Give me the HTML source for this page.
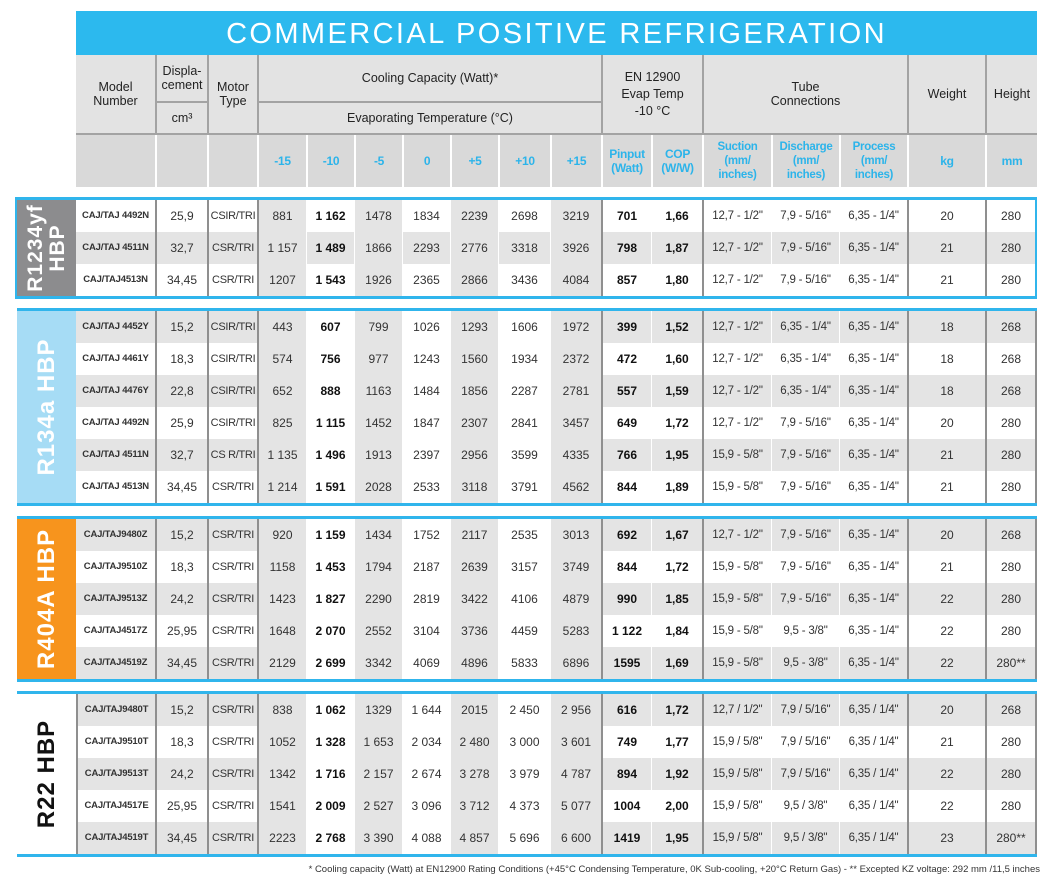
<!DOCTYPE html>
<html><head><meta charset="utf-8">
<style>
body{margin:0;width:1060px;height:882px;background:#fff;position:relative;overflow:hidden;font-family:"Liberation Sans Narrow","Liberation Sans",sans-serif;color:#333}
.title{position:absolute;left:76px;top:11px;width:961px;height:44px;background:#2cb9ee;color:#fff;font-family:"Liberation Sans",sans-serif;font-size:29px;line-height:47px;text-align:center;letter-spacing:2.4px}
.hdr{position:absolute;left:76px;top:55px;width:961px}
.hr{display:flex}
.h1 > div{box-sizing:border-box;background:#e3e3e3;border-left:2px solid #a3a3a3;font-size:12.5px;color:#222;display:flex;align-items:center;justify-content:center;text-align:center;line-height:14px}
.h1 > div:first-child{border-left:none}
.split{flex-direction:column;padding:0!important}
.split > div{width:100%;display:flex;align-items:center;justify-content:center}
.h2{border-top:2px solid #a3a3a3}
.h2 > div{box-sizing:border-box;background:#d9d9d9;border-left:2px solid #fff;height:52px;color:#2cb4ea;font-weight:bold;font-size:12px;display:flex;align-items:center;justify-content:center;text-align:center;line-height:14px;letter-spacing:-0.3px}
.h2 > div:first-child{border-left:none}
.grp{position:absolute;left:17px;width:1020px;border-top:3px solid #30b5ec;border-bottom:3px solid #30b5ec;display:flex}
.lab{width:59px;position:relative;overflow:hidden}
.lab span{position:absolute;left:50%;top:50%;transform:translate(-50%,-50%) rotate(-90deg);white-space:nowrap;font-family:"Liberation Sans",sans-serif;font-weight:bold;font-size:24px;letter-spacing:1px;line-height:24px;text-align:center}
.rows{width:961px;border-right:2px solid #8f8f8f;box-sizing:border-box}
.r{display:flex;height:32px}
.r > div{box-sizing:border-box;text-align:center;line-height:32px;font-size:12px;white-space:nowrap;overflow:hidden;border-left:1px solid #fff}
.g{background:#e4e4e4}
.r > .G{background:#e4e4e4}
.r > .W{background:#fff}
.k{border-left:2px solid #8f8f8f!important}
.b{font-weight:bold;color:#111}
.m{font-size:9.5px!important;font-weight:bold;color:#333;letter-spacing:-0.2px}
.w3{font-size:11px!important;letter-spacing:-0.3px}
.w1{width:79px}.w2{width:52px}.w3{width:50px}.t1{width:49px}.t{width:48px}.t6{width:52px}.t7{width:51px}
.p1{width:50px}.p2{width:51px}.s1{width:69px}.s2{width:68px}.s3{width:68px}.wt{width:78px}.ht{width:50px}
.s1,.s2,.s3{font-size:11.5px!important;letter-spacing:-0.2px}
.foot{position:absolute;right:20px;top:864px;font-size:9.5px;color:#333}
</style></head><body>
<div class="title">COMMERCIAL POSITIVE REFRIGERATION</div>
<div class="hdr">
 <div class="hr h1" style="height:78px">
  <div style="width:79px">Model<br>Number</div>
  <div class="split" style="width:52px"><div style="height:46px;border-bottom:2px solid #a3a3a3">Displa-<br>cement</div><div style="height:30px">cm³</div></div>
  <div style="width:50px">Motor<br>Type</div>
  <div class="split" style="width:344px"><div style="height:46px;border-bottom:2px solid #a3a3a3">Cooling Capacity (Watt)*</div><div style="height:30px">Evaporating Temperature (°C)</div></div>
  <div style="width:101px;line-height:17px">EN 12900<br>Evap Temp<br>-10 °C</div>
  <div style="width:205px">Tube<br>Connections</div>
  <div style="width:78px">Weight</div>
  <div style="width:52px">Height</div>
 </div>
 <div class="hr h2">
  <div class="w1"></div><div class="w2"></div><div class="w3"></div>
  <div class="t1">-15</div><div class="t">-10</div><div class="t">-5</div><div class="t">0</div><div class="t">+5</div><div class="t6">+10</div><div class="t7">+15</div>
  <div class="p1">Pinput<br>(Watt)</div><div class="p2">COP<br>(W/W)</div>
  <div class="s1">Suction<br>(mm/<br>inches)</div><div class="s2">Discharge<br>(mm/<br>inches)</div><div class="s3">Process<br>(mm/<br>inches)</div>
  <div class="wt">kg</div><div style="width:52px">mm</div>
 </div>
</div>

<!-- Group 1 -->
<div class="grp" style="top:197px;border-left:2px solid #30b5ec;border-right:2px solid #30b5ec;width:1018px;left:15px">
 <div class="lab" style="background:#8c8c8e;color:#fff;width:61px"><span style="font-size:21px;line-height:22px">R1234yf<br>HBP</span></div>
 <div class="rows" style="border-right:none">
  <div class="r"><div class="w1 m" style="border-left:none">CAJ/TAJ 4492N</div><div class="w2 k">25,9</div><div class="w3 k">CSIR/TRI</div><div class="t1 k G">881</div><div class="t b">1 162</div><div class="t G">1478</div><div class="t">1834</div><div class="t G">2239</div><div class="t6">2698</div><div class="t7 G">3219</div><div class="p1 k b">701</div><div class="p2 b">1,66</div><div class="s1 k">12,7 - 1/2"</div><div class="s2">7,9 - 5/16"</div><div class="s3">6,35 - 1/4"</div><div class="wt k">20</div><div class="ht k">280</div></div>
  <div class="r g"><div class="w1 m" style="border-left:none">CAJ/TAJ 4511N</div><div class="w2 k">32,7</div><div class="w3 k">CSR/TRI</div><div class="t1 k">1 157</div><div class="t b">1 489</div><div class="t">1866</div><div class="t">2293</div><div class="t">2776</div><div class="t6">3318</div><div class="t7">3926</div><div class="p1 k b">798</div><div class="p2 b">1,87</div><div class="s1 k">12,7 - 1/2"</div><div class="s2">7,9 - 5/16"</div><div class="s3">6,35 - 1/4"</div><div class="wt k">21</div><div class="ht k">280</div></div>
  <div class="r"><div class="w1 m" style="border-left:none">CAJ/TAJ4513N</div><div class="w2 k">34,45</div><div class="w3 k">CSR/TRI</div><div class="t1 k G">1207</div><div class="t b">1 543</div><div class="t G">1926</div><div class="t">2365</div><div class="t G">2866</div><div class="t6">3436</div><div class="t7 G">4084</div><div class="p1 k b">857</div><div class="p2 b">1,80</div><div class="s1 k">12,7 - 1/2"</div><div class="s2">7,9 - 5/16"</div><div class="s3">6,35 - 1/4"</div><div class="wt k">21</div><div class="ht k">280</div></div>
 </div>
</div>

<!-- Group 2 -->
<div class="grp" style="top:308px">
 <div class="lab" style="background:#a6dcf5;color:#fff"><span>R134a HBP</span></div>
 <div class="rows">
  <div class="r g"><div class="w1 m" style="border-left:none">CAJ/TAJ 4452Y</div><div class="w2 k">15,2</div><div class="w3 k">CSIR/TRI</div><div class="t1 k G">443</div><div class="t b W">607</div><div class="t G">799</div><div class="t W">1026</div><div class="t G">1293</div><div class="t6 W">1606</div><div class="t7 G">1972</div><div class="p1 k b">399</div><div class="p2 b">1,52</div><div class="s1 k">12,7 - 1/2"</div><div class="s2">6,35 - 1/4"</div><div class="s3">6,35 - 1/4"</div><div class="wt k">18</div><div class="ht k">268</div></div>
  <div class="r"><div class="w1 m" style="border-left:none">CAJ/TAJ 4461Y</div><div class="w2 k">18,3</div><div class="w3 k">CSIR/TRI</div><div class="t1 k G">574</div><div class="t b">756</div><div class="t G">977</div><div class="t">1243</div><div class="t G">1560</div><div class="t6">1934</div><div class="t7 G">2372</div><div class="p1 k b">472</div><div class="p2 b">1,60</div><div class="s1 k">12,7 - 1/2"</div><div class="s2">6,35 - 1/4"</div><div class="s3">6,35 - 1/4"</div><div class="wt k">18</div><div class="ht k">268</div></div>
  <div class="r g"><div class="w1 m" style="border-left:none">CAJ/TAJ 4476Y</div><div class="w2 k">22,8</div><div class="w3 k">CSIR/TRI</div><div class="t1 k G">652</div><div class="t b W">888</div><div class="t G">1163</div><div class="t W">1484</div><div class="t G">1856</div><div class="t6 W">2287</div><div class="t7 G">2781</div><div class="p1 k b">557</div><div class="p2 b">1,59</div><div class="s1 k">12,7 - 1/2"</div><div class="s2">6,35 - 1/4"</div><div class="s3">6,35 - 1/4"</div><div class="wt k">18</div><div class="ht k">268</div></div>
  <div class="r"><div class="w1 m" style="border-left:none">CAJ/TAJ 4492N</div><div class="w2 k">25,9</div><div class="w3 k">CSIR/TRI</div><div class="t1 k G">825</div><div class="t b">1 115</div><div class="t G">1452</div><div class="t">1847</div><div class="t G">2307</div><div class="t6">2841</div><div class="t7 G">3457</div><div class="p1 k b">649</div><div class="p2 b">1,72</div><div class="s1 k">12,7 - 1/2"</div><div class="s2">7,9 - 5/16"</div><div class="s3">6,35 - 1/4"</div><div class="wt k">20</div><div class="ht k">280</div></div>
  <div class="r g"><div class="w1 m" style="border-left:none">CAJ/TAJ 4511N</div><div class="w2 k">32,7</div><div class="w3 k">CS R/TRI</div><div class="t1 k G">1 135</div><div class="t b W">1 496</div><div class="t G">1913</div><div class="t W">2397</div><div class="t G">2956</div><div class="t6 W">3599</div><div class="t7 G">4335</div><div class="p1 k b">766</div><div class="p2 b">1,95</div><div class="s1 k">15,9 - 5/8"</div><div class="s2">7,9 - 5/16"</div><div class="s3">6,35 - 1/4"</div><div class="wt k">21</div><div class="ht k">280</div></div>
  <div class="r"><div class="w1 m" style="border-left:none">CAJ/TAJ 4513N</div><div class="w2 k">34,45</div><div class="w3 k">CSR/TRI</div><div class="t1 k G">1 214</div><div class="t b">1 591</div><div class="t G">2028</div><div class="t">2533</div><div class="t G">3118</div><div class="t6">3791</div><div class="t7 G">4562</div><div class="p1 k b">844</div><div class="p2 b">1,89</div><div class="s1 k">15,9 - 5/8"</div><div class="s2">7,9 - 5/16"</div><div class="s3">6,35 - 1/4"</div><div class="wt k">21</div><div class="ht k">280</div></div>
 </div>
</div>

<!-- Group 3 -->
<div class="grp" style="top:516px">
 <div class="lab" style="background:#f7941d;color:#fff"><span>R404A HBP</span></div>
 <div class="rows">
  <div class="r g"><div class="w1 m" style="border-left:none">CAJ/TAJ9480Z</div><div class="w2 k">15,2</div><div class="w3 k">CSR/TRI</div><div class="t1 k G">920</div><div class="t b W">1 159</div><div class="t G">1434</div><div class="t W">1752</div><div class="t G">2117</div><div class="t6 W">2535</div><div class="t7 G">3013</div><div class="p1 k b">692</div><div class="p2 b">1,67</div><div class="s1 k">12,7 - 1/2"</div><div class="s2">7,9 - 5/16"</div><div class="s3">6,35 - 1/4"</div><div class="wt k">20</div><div class="ht k">268</div></div>
  <div class="r"><div class="w1 m" style="border-left:none">CAJ/TAJ9510Z</div><div class="w2 k">18,3</div><div class="w3 k">CSR/TRI</div><div class="t1 k G">1158</div><div class="t b">1 453</div><div class="t G">1794</div><div class="t">2187</div><div class="t G">2639</div><div class="t6">3157</div><div class="t7 G">3749</div><div class="p1 k b">844</div><div class="p2 b">1,72</div><div class="s1 k">15,9 - 5/8"</div><div class="s2">7,9 - 5/16"</div><div class="s3">6,35 - 1/4"</div><div class="wt k">21</div><div class="ht k">280</div></div>
  <div class="r g"><div class="w1 m" style="border-left:none">CAJ/TAJ9513Z</div><div class="w2 k">24,2</div><div class="w3 k">CSR/TRI</div><div class="t1 k G">1423</div><div class="t b W">1 827</div><div class="t G">2290</div><div class="t W">2819</div><div class="t G">3422</div><div class="t6 W">4106</div><div class="t7 G">4879</div><div class="p1 k b">990</div><div class="p2 b">1,85</div><div class="s1 k">15,9 - 5/8"</div><div class="s2">7,9 - 5/16"</div><div class="s3">6,35 - 1/4"</div><div class="wt k">22</div><div class="ht k">280</div></div>
  <div class="r"><div class="w1 m" style="border-left:none">CAJ/TAJ4517Z</div><div class="w2 k">25,95</div><div class="w3 k">CSR/TRI</div><div class="t1 k G">1648</div><div class="t b">2 070</div><div class="t G">2552</div><div class="t">3104</div><div class="t G">3736</div><div class="t6">4459</div><div class="t7 G">5283</div><div class="p1 k b">1 122</div><div class="p2 b">1,84</div><div class="s1 k">15,9 - 5/8"</div><div class="s2">9,5 - 3/8"</div><div class="s3">6,35 - 1/4"</div><div class="wt k">22</div><div class="ht k">280</div></div>
  <div class="r g"><div class="w1 m" style="border-left:none">CAJ/TAJ4519Z</div><div class="w2 k">34,45</div><div class="w3 k">CSR/TRI</div><div class="t1 k G">2129</div><div class="t b W">2 699</div><div class="t G">3342</div><div class="t W">4069</div><div class="t G">4896</div><div class="t6 W">5833</div><div class="t7 G">6896</div><div class="p1 k b">1595</div><div class="p2 b">1,69</div><div class="s1 k">15,9 - 5/8"</div><div class="s2">9,5 - 3/8"</div><div class="s3">6,35 - 1/4"</div><div class="wt k">22</div><div class="ht k">280**</div></div>
 </div>
</div>

<!-- Group 4 -->
<div class="grp" style="top:691px">
 <div class="lab" style="background:#fff;color:#111"><span>R22 HBP</span></div>
 <div class="rows">
  <div class="r g"><div class="w1 m k">CAJ/TAJ9480T</div><div class="w2 k">15,2</div><div class="w3 k">CSR/TRI</div><div class="t1 k G">838</div><div class="t b W">1 062</div><div class="t G">1329</div><div class="t W">1 644</div><div class="t G">2015</div><div class="t6 W">2 450</div><div class="t7 G">2 956</div><div class="p1 k b">616</div><div class="p2 b">1,72</div><div class="s1 k">12,7 / 1/2"</div><div class="s2">7,9 / 5/16"</div><div class="s3">6,35 / 1/4"</div><div class="wt k">20</div><div class="ht k">268</div></div>
  <div class="r"><div class="w1 m k">CAJ/TAJ9510T</div><div class="w2 k">18,3</div><div class="w3 k">CSR/TRI</div><div class="t1 k G">1052</div><div class="t b">1 328</div><div class="t G">1 653</div><div class="t">2 034</div><div class="t G">2 480</div><div class="t6">3 000</div><div class="t7 G">3 601</div><div class="p1 k b">749</div><div class="p2 b">1,77</div><div class="s1 k">15,9 / 5/8"</div><div class="s2">7,9 / 5/16"</div><div class="s3">6,35 / 1/4"</div><div class="wt k">21</div><div class="ht k">280</div></div>
  <div class="r g"><div class="w1 m k">CAJ/TAJ9513T</div><div class="w2 k">24,2</div><div class="w3 k">CSR/TRI</div><div class="t1 k G">1342</div><div class="t b W">1 716</div><div class="t G">2 157</div><div class="t W">2 674</div><div class="t G">3 278</div><div class="t6 W">3 979</div><div class="t7 G">4 787</div><div class="p1 k b">894</div><div class="p2 b">1,92</div><div class="s1 k">15,9 / 5/8"</div><div class="s2">7,9 / 5/16"</div><div class="s3">6,35 / 1/4"</div><div class="wt k">22</div><div class="ht k">280</div></div>
  <div class="r"><div class="w1 m k">CAJ/TAJ4517E</div><div class="w2 k">25,95</div><div class="w3 k">CSR/TRI</div><div class="t1 k G">1541</div><div class="t b">2 009</div><div class="t G">2 527</div><div class="t">3 096</div><div class="t G">3 712</div><div class="t6">4 373</div><div class="t7 G">5 077</div><div class="p1 k b">1004</div><div class="p2 b">2,00</div><div class="s1 k">15,9 / 5/8"</div><div class="s2">9,5 / 3/8"</div><div class="s3">6,35 / 1/4"</div><div class="wt k">22</div><div class="ht k">280</div></div>
  <div class="r g"><div class="w1 m k">CAJ/TAJ4519T</div><div class="w2 k">34,45</div><div class="w3 k">CSR/TRI</div><div class="t1 k G">2223</div><div class="t b W">2 768</div><div class="t G">3 390</div><div class="t W">4 088</div><div class="t G">4 857</div><div class="t6 W">5 696</div><div class="t7 G">6 600</div><div class="p1 k b">1419</div><div class="p2 b">1,95</div><div class="s1 k">15,9 / 5/8"</div><div class="s2">9,5 / 3/8"</div><div class="s3">6,35 / 1/4"</div><div class="wt k">23</div><div class="ht k">280**</div></div>
 </div>
</div>

<div class="foot">* Cooling capacity (Watt) at EN12900 Rating Conditions (+45°C Condensing Temperature, 0K Sub-cooling, +20°C Return Gas) - ** Excepted KZ voltage: 292 mm /11,5 inches</div>
</body></html>
